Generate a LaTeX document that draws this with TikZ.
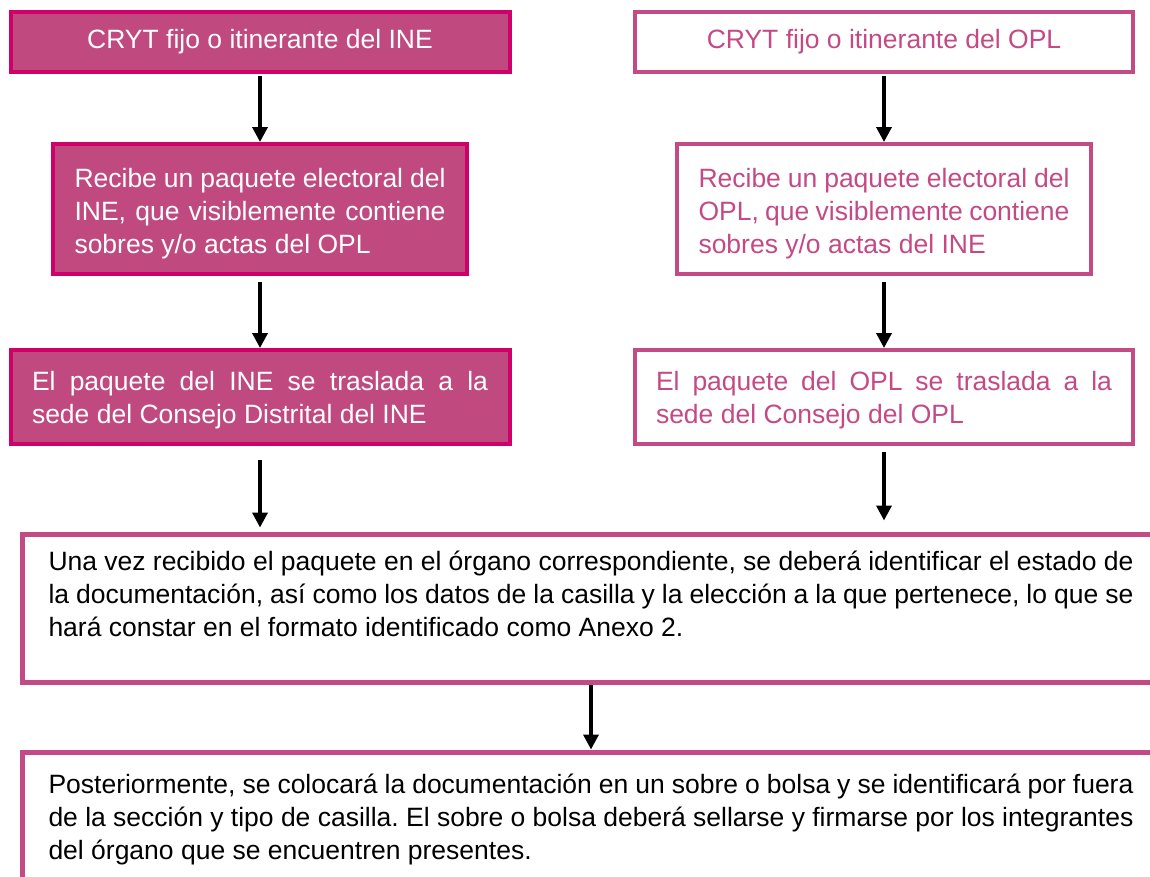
\documentclass[tikz,border=0pt]{standalone}
\usepackage{fontspec}
\setmainfont{Liberation Sans}
\usetikzlibrary{arrows.meta}
\frenchspacing

\definecolor{rosaine}{RGB}{192,73,128}
\definecolor{bordeine}{RGB}{208,0,106}
\definecolor{rosaopl}{RGB}{196,74,134}

\tikzset{
  texto/.style={font=\fontsize{26.5pt}{33pt}\selectfont},
  cajaine/.style={texto, draw=bordeine, fill=rosaine, line width=4pt, text=white},
  cajaopl/.style={texto, draw=rosaopl, fill=white, line width=4pt, text=rosaopl},
  cajagrande/.style={texto, draw=rosaopl, fill=white, line width=5pt, text=black,
    inner xsep=26.5pt, inner ysep=16.5pt, anchor=north west},
  flecha/.style={-{Triangle[width=15pt,length=15pt]}, line width=3.5pt, black}
}

\begin{document}
\begin{tikzpicture}[x=1pt, y=-1pt]
  \path[use as bounding box] (0,0) rectangle (1150,876);
  \clip (0,0) rectangle (1150,876);

  % columna del INE
  \node[cajaine, minimum width=499pt, minimum height=60pt] (crytine) at (260,42)
    {CRYT fijo o itinerante del INE};
  \node[cajaine, minimum width=414pt, minimum height=130pt] (recibeine) at (260,209)
    {\parbox[c][82pt][t]{371pt}{Recibe un paquete electoral del\linebreak INE, que visiblemente contiene\linebreak sobres y/o actas del OPL}};
  \node[cajaine, minimum width=499pt, minimum height=94pt] (trasladaine) at (260,397)
    {\parbox[c][52pt][t]{456pt}{El paquete del INE se traslada a la\linebreak sede del Consejo Distrital del INE}};

  % columna del OPL
  \node[cajaopl, minimum width=498pt, minimum height=60pt] (crytopl) at (884,42)
    {CRYT fijo o itinerante del OPL};
  \node[cajaopl, minimum width=414pt, minimum height=130pt] (recibeopl) at (884,209)
    {\parbox[c][82pt][t]{371pt}{Recibe un paquete electoral del\linebreak OPL, que visiblemente contiene\linebreak sobres y/o actas del INE}};
  \node[cajaopl, minimum width=498pt, minimum height=94pt] (trasladaopl) at (884,397)
    {\parbox[c][52pt][t]{456pt}{El paquete del OPL se traslada a la\linebreak sede del Consejo del OPL}};

  % cajas comunes
  \node[cajagrande] (anexo) at (19.5,531.5)
    {\parbox[c][115pt][t]{1085pt}{Una vez recibido el paquete en el órgano correspondiente, se deberá identificar el estado de\linebreak la documentación, así como los datos de la casilla y la elección a la que pertenece, lo que se\linebreak hará constar en el formato identificado como Anexo 2.}};
  \node[cajagrande, inner ysep=22pt] (sobre) at (19.5,749.5)
    {\parbox[c][140pt][t]{1085pt}{Posteriormente, se colocará la documentación en un sobre o bolsa y se identificará por fuera\linebreak de la sección y tipo de casilla. El sobre o bolsa deberá sellarse y firmarse por los integrantes\linebreak del órgano que se encuentren presentes.}};

  \draw[flecha, shorten <=2pt] (crytine.south) -- (recibeine.north);
  \draw[flecha, shorten <=6pt] (recibeine.south) -- (trasladaine.north);
  \draw[flecha, shorten <=14pt, shorten >=4pt] (trasladaine.south) -- (trasladaine.south |- anexo.north);
  \draw[flecha, shorten <=2pt] (crytopl.south) -- (recibeopl.north);
  \draw[flecha, shorten <=6pt] (recibeopl.south) -- (trasladaopl.north);
  \draw[flecha, shorten <=6pt, shorten >=11pt] (trasladaopl.south) -- (trasladaopl.south |- anexo.north);
  \draw[flecha] (anexo.south) -- (sobre.north);
\end{tikzpicture}
\end{document}
